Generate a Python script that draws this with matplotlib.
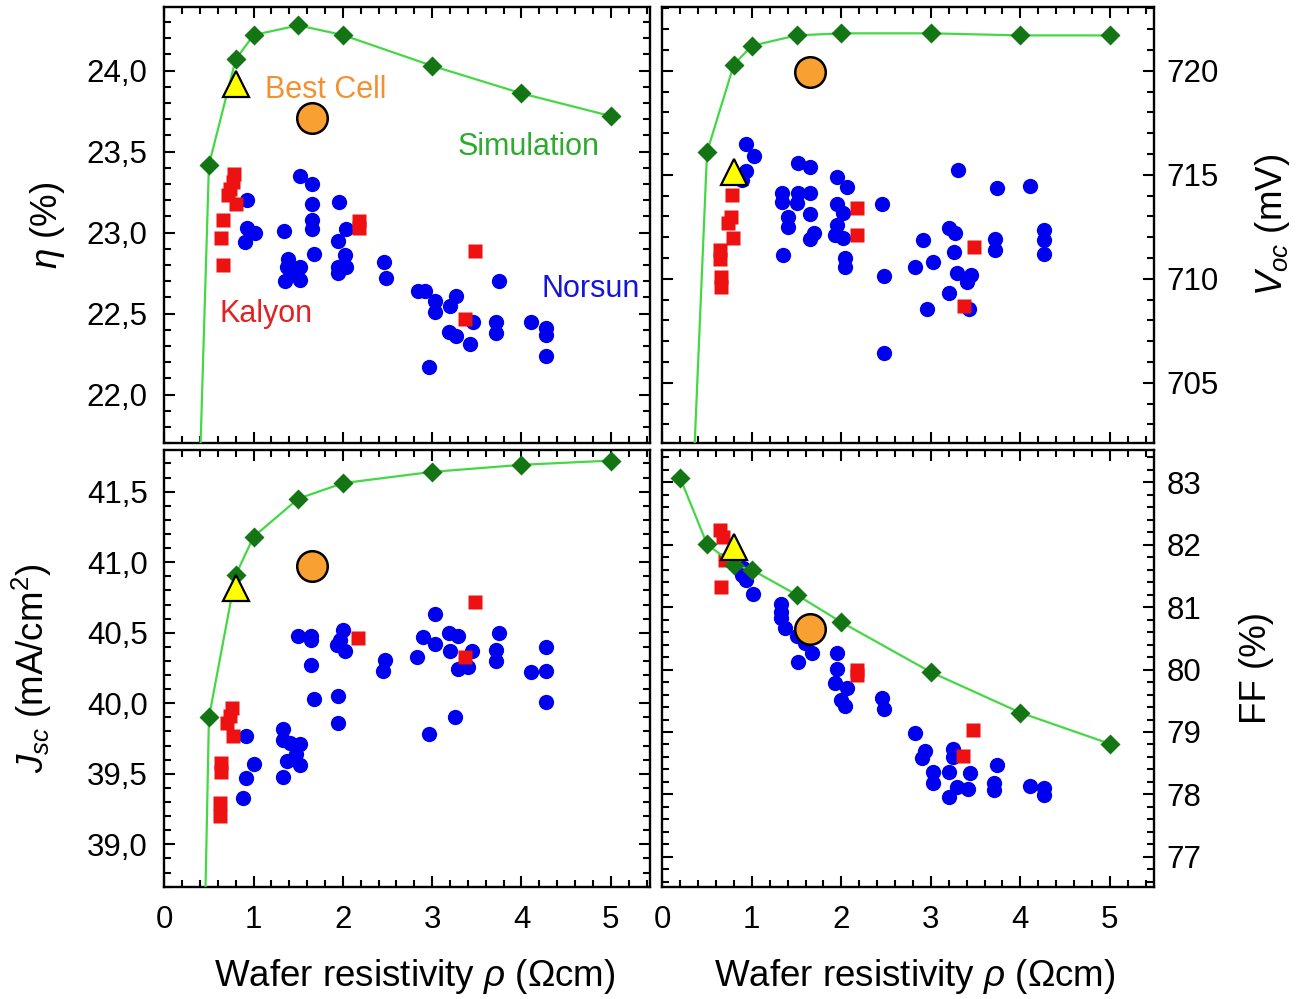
import matplotlib
matplotlib.use("Agg")
import matplotlib.pyplot as plt
from matplotlib import ticker

plt.rcParams['font.family'] = ['Liberation Sans', 'DejaVu Sans']
plt.rcParams['mathtext.fontset'] = 'custom'
plt.rcParams['mathtext.rm'] = 'Liberation Sans'
plt.rcParams['mathtext.it'] = 'Liberation Sans:italic'
plt.rcParams['mathtext.bf'] = 'Liberation Sans:bold'

# ---------------- data ----------------
sim_x = [0.2, 0.5, 0.8, 1.0, 1.5, 2.0, 3.0, 4.0, 5.0]
sim_eta = [17.9, 23.42, 24.07, 24.22, 24.28, 24.22, 24.03, 23.86, 23.72]
sim_voc = [685.6, 716.1, 720.3, 721.2, 721.7, 721.8, 721.8, 721.7, 721.7]
sim_jsc = [30.4, 39.90, 40.91, 41.18, 41.45, 41.56, 41.64, 41.69, 41.72]
sim_ff = [83.07, 82.01, 81.68, 81.60, 81.20, 80.76, 79.96, 79.31, 78.81]

best_x = [1.65]
best_eta = [23.71]
best_voc = [719.92]
best_jsc = [40.97]
best_ff = [80.65]

tri_x = [0.80]
tri_eta = [23.92]
tri_voc = [715.14]
tri_jsc = [40.82]
tri_ff = [81.96]

kal_eta_x = [0.78, 0.77, 0.74, 0.71, 0.80, 0.66, 0.635, 0.66, 2.18, 2.18, 3.48, 3.37]
kal_eta_y = [23.36, 23.31, 23.27, 23.23, 23.18, 23.08, 22.97, 22.80, 23.07, 23.03, 22.89, 22.47]

nor_eta_x = [0.93, 0.93, 1.02, 0.90, 1.34, 1.39, 1.37, 1.35, 1.52, 1.52, 1.45,
             1.52, 1.65, 1.65, 1.65, 1.65, 1.68, 1.96, 2.04, 1.95, 2.02, 1.95,
             2.04, 1.95, 2.46, 2.48, 2.84, 2.92, 3.03, 3.03, 3.27, 3.20, 3.19,
             3.27, 3.42, 3.46, 2.96, 3.75, 3.71, 3.71, 4.11, 4.27, 4.27, 4.27]
nor_eta_y = [23.20, 23.03, 23.00, 22.94, 23.01, 22.84, 22.79, 22.70, 22.79, 22.71, 22.76,
             23.35, 23.30, 23.18, 23.08, 23.02, 22.87, 23.19, 23.02, 22.95, 22.86, 22.79,
             22.79, 22.75, 22.82, 22.72, 22.64, 22.64, 22.58, 22.51, 22.61, 22.545, 22.39,
             22.36, 22.315, 22.45, 22.17, 22.70, 22.45, 22.38, 22.45, 22.41, 22.37, 22.24]

kal_voc_x = [0.775, 0.77, 0.73, 0.79, 0.645, 0.65, 0.66, 0.66, 2.17, 2.18, 3.48, 3.37]
kal_voc_y = [714.02, 712.98, 712.69, 711.94, 711.38, 710.93, 710.10, 709.62, 713.38, 712.09, 711.51, 708.69]

nor_voc_x = [0.935, 1.025, 0.94, 0.89, 1.52, 1.65, 1.34, 1.52, 1.65, 1.34, 1.50, 1.40,
             1.40, 1.65, 1.70, 1.65, 1.35, 1.95, 2.06, 1.95, 2.02, 1.95, 1.93, 2.02,
             2.04, 2.04, 2.46, 2.48, 2.48, 2.82, 2.96, 2.91, 3.03, 3.20, 3.27, 3.26,
             3.29, 3.45, 3.40, 3.20, 3.43, 3.30, 3.74, 4.11, 3.72, 3.72, 4.26, 4.26, 4.26]
nor_voc_y = [716.48, 715.90, 715.18, 714.75, 715.55, 715.38, 714.13, 714.13, 714.13, 713.67,
             713.63, 712.95, 712.50, 713.11, 712.18, 711.89, 711.14, 714.90, 714.42, 713.59,
             713.14, 712.58, 712.10, 711.94, 710.98, 710.58, 713.59, 710.13, 706.41, 710.58,
             708.53, 711.86, 710.82, 712.45, 712.21, 711.27, 710.26, 710.18, 709.86, 709.33,
             708.53, 715.23, 714.35, 714.46, 711.89, 711.38, 712.34, 711.86, 711.19]

kal_jsc_x = [0.755, 0.735, 0.70, 0.765, 0.64, 0.64, 0.62, 0.62, 2.17, 3.48, 3.37]
kal_jsc_y = [39.97, 39.91, 39.86, 39.77, 39.58, 39.51, 39.29, 39.20, 40.46, 40.72, 40.33]

nor_jsc_x = [0.915, 1.00, 0.915, 0.88, 1.33, 1.33, 1.41, 1.52, 1.48, 1.37, 1.52, 1.33,
             1.50, 1.64, 1.64, 1.64, 1.68, 1.95, 1.95, 2.00, 1.93, 2.02, 1.97, 2.47, 2.45,
             3.03, 2.90, 3.03, 2.83, 3.19, 3.29, 3.20, 3.45, 3.29, 3.40, 3.26, 2.96,
             3.75, 3.72, 3.71, 4.11, 4.27, 4.27, 4.27]
nor_jsc_y = [39.77, 39.57, 39.47, 39.33, 39.82, 39.74, 39.72, 39.71, 39.64, 39.59, 39.56, 39.48,
             40.48, 40.48, 40.45, 40.27, 40.03, 40.05, 39.86, 40.52, 40.41, 40.37, 40.45, 40.31, 40.23,
             40.63, 40.47, 40.42, 40.33, 40.50, 40.48, 40.37, 40.37, 40.24, 40.26, 39.90, 39.78,
             40.50, 40.38, 40.30, 40.22, 40.40, 40.23, 40.01]

kal_ff_x = [0.64, 0.675, 0.70, 0.66, 2.17, 2.17, 3.47, 3.36]
kal_ff_y = [82.23, 82.12, 81.76, 81.32, 80.00, 79.92, 79.03, 78.61]

nor_ff_x = [0.905, 0.89, 0.93, 1.01, 1.33, 1.33, 1.33, 1.37, 1.50, 1.59, 1.67, 1.52,
            1.95, 1.95, 1.93, 2.06, 2.00, 2.04, 2.46, 2.48, 2.82, 2.94, 2.90, 3.02,
            3.02, 3.20, 3.25, 3.25, 3.29, 3.20, 3.44, 3.42, 3.74, 3.71, 3.71, 4.11,
            4.26, 4.26]
nor_ff_y = [81.63, 81.52, 81.44, 81.21, 81.05, 80.93, 80.82, 80.66, 80.54, 80.42, 80.26, 80.12,
            80.26, 80.01, 79.79, 79.70, 79.51, 79.41, 79.54, 79.37, 78.99, 78.69, 78.58, 78.36,
            78.18, 78.36, 78.72, 78.60, 78.12, 77.96, 78.35, 78.08, 78.47, 78.18, 78.07, 78.14,
            78.10, 77.99]

# ---------------- styling ----------------
C_BLUE = '#0000F0'
C_RED = '#EE1111'
C_DIAM = '#137513'
C_LINE = '#45D845'
C_ORANGE = '#F9A032'
C_YELLOW = '#FFFF00'

W, H = 1296, 999
fig = plt.figure(figsize=(W / 100, H / 100), dpi=100)

def rect(l, t, r, b):
    return [l / W, 1 - b / H, (r - l) / W, (b - t) / H]

ax_eta = fig.add_axes(rect(164.3, 6.7, 650.0, 443.3))
ax_voc = fig.add_axes(rect(662.3, 6.7, 1154.3, 443.3))
ax_jsc = fig.add_axes(rect(164.3, 450.0, 650.0, 886.7))
ax_ff = fig.add_axes(rect(662.3, 450.0, 1154.3, 886.7))

comma = ticker.FuncFormatter(lambda v, p: f"{v:.1f}".replace('.', ','))
intfmt = ticker.FuncFormatter(lambda v, p: f"{v:.0f}")

panels = [
    (ax_eta, sim_eta, best_eta, tri_eta, kal_eta_x, kal_eta_y, nor_eta_x, nor_eta_y,
     (21.70, 24.395), 0.5, 0.1, comma, 'left', (0, 5.439)),
    (ax_voc, sim_voc, best_voc, tri_voc, kal_voc_x, kal_voc_y, nor_voc_x, nor_voc_y,
     (702.09, 723.08), 5, 1, intfmt, 'right', (0, 5.497)),
    (ax_jsc, sim_jsc, best_jsc, tri_jsc, kal_jsc_x, kal_jsc_y, nor_jsc_x, nor_jsc_y,
     (38.70, 41.795), 0.5, 0.1, comma, 'left', (0, 5.439)),
    (ax_ff, sim_ff, best_ff, tri_ff, kal_ff_x, kal_ff_y, nor_ff_x, nor_ff_y,
     (76.52, 83.52), 1, 0.2, intfmt, 'right', (0, 5.497)),
]

for (ax, sy, by, ty, kx, ky, nx, ny, ylim, maj, mnr, fmt, side, xlim) in panels:
    ax.plot(nx, ny, 'o', ms=11, color=C_BLUE, mec='none', zorder=3)
    ax.plot(kx, ky, 's', ms=10, color=C_RED, mec='none', zorder=4)
    ax.plot(sim_x, sy, '-', color=C_LINE, lw=1.6, zorder=5)
    ax.plot(sim_x, sy, 'D', ms=10.5, color=C_DIAM, mec='none', zorder=6)
    ax.plot(tri_x, ty, '^', ms=19, color=C_YELLOW, mec='black', mew=1.6, zorder=7)
    ax.plot(best_x, by, 'o', ms=22, color=C_ORANGE, mec='black', mew=1.8, zorder=8)
    ax.set_xlim(*xlim)
    ax.set_ylim(*ylim)
    ax.xaxis.set_major_locator(ticker.MultipleLocator(1))
    ax.xaxis.set_minor_locator(ticker.MultipleLocator(0.2))
    ax.yaxis.set_major_locator(ticker.MultipleLocator(maj))
    ax.yaxis.set_minor_locator(ticker.MultipleLocator(mnr))
    ax.yaxis.set_major_formatter(fmt)
    ax.tick_params(which='both', direction='in', top=True, bottom=True, left=True, right=True,
                   width=1.5, colors='black')
    ax.tick_params(which='major', length=8, labelsize=22.5)
    ax.tick_params(which='minor', length=5)
    if side == 'left':
        ax.tick_params(axis='y', labelleft=True, labelright=False, pad=12)
    else:
        ax.tick_params(axis='y', labelleft=False, labelright=True, pad=9)
    for sp in ax.spines.values():
        sp.set_linewidth(1.7)

for ax in (ax_eta, ax_voc):
    ax.tick_params(axis='x', labelbottom=False)
for ax in (ax_jsc, ax_ff):
    ax.tick_params(axis='x', labelbottom=True, pad=13)

# axis labels
LBL = 26.5
ax_eta.set_ylabel(r'$\eta$ (%)', fontsize=LBL)
ax_eta.yaxis.label.set_va('center')
ax_eta.yaxis.set_label_coords((48 - 164.3) / 485.7, 0.5)

ax_jsc.set_ylabel(r'$J_{sc}$ (mA/cm$^2$)', fontsize=LBL)
ax_jsc.yaxis.label.set_va('center')
ax_jsc.yaxis.set_label_coords((32 - 164.3) / 485.7, 0.5)

ax_voc.yaxis.set_label_position('right')
ax_voc.set_ylabel(r'$V_{oc}$ (mV)', fontsize=LBL)
ax_voc.yaxis.label.set_va('center')
ax_voc.yaxis.set_label_coords((1272 - 662.3) / 492.0, 0.5)

ax_ff.yaxis.set_label_position('right')
ax_ff.set_ylabel('FF (%)', fontsize=LBL)
ax_ff.yaxis.label.set_va('center')
ax_ff.yaxis.set_label_coords((1257 - 662.3) / 492.0, 0.5)

for ax, cx, wd, l in ((ax_jsc, 415, 485.7, 164.3), (ax_ff, 915, 492.0, 662.3)):
    ax.set_xlabel(r'Wafer resistivity $\rho$ (Ωcm)', fontsize=LBL)
    ax.xaxis.label.set_va('center')
    ax.xaxis.set_label_coords((cx - l) / wd, -(977 - 886.7) / 436.7)

# annotations
TXT = 22
ax_eta.text(1.81, 23.88, 'Best Cell', color='#F39030', fontsize=TXT, ha='center', va='center')
ax_eta.text(4.08, 23.53, 'Simulation', color='#2EAA2E', fontsize=TXT, ha='center', va='center')
ax_eta.text(4.78, 22.65, 'Norsun', color='#1515D8', fontsize=TXT, ha='center', va='center')
ax_eta.text(1.14, 22.50, 'Kalyon', color='#E02222', fontsize=TXT, ha='center', va='center')

fig.savefig('out.png', dpi=100)
